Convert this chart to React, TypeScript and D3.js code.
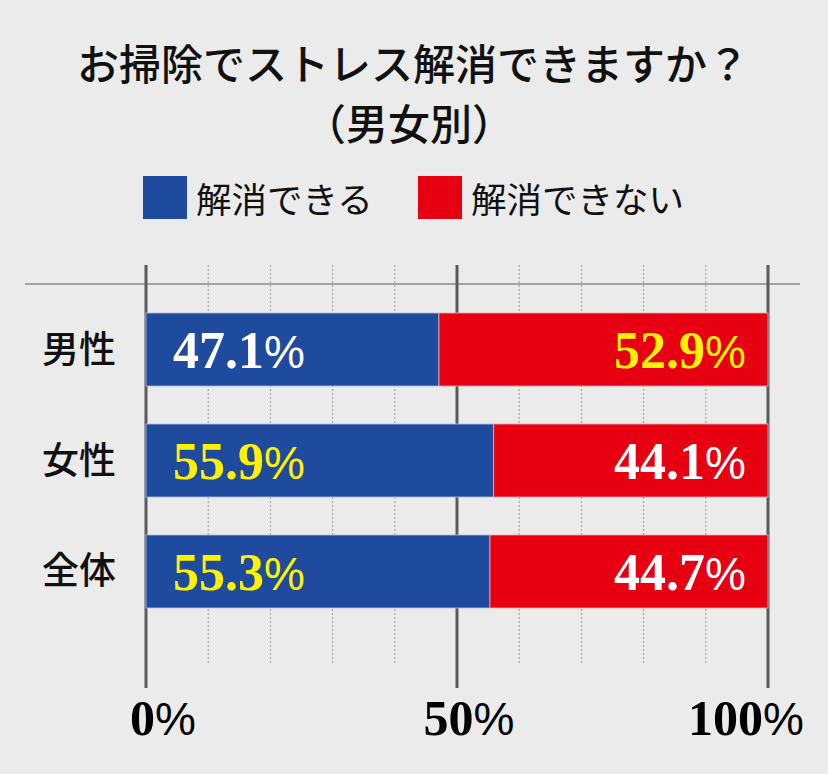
import React from "react";
import * as d3 from "d3";

const categories = ["男性", "女性", "全体"];
const canValues = [47.1, 55.9, 55.3];
const cannotValues = [52.9, 44.1, 44.7];
const seriesNames = ["解消できる", "解消できない"];
const majorTicks = [0, 50, 100];
const minorTicks = [10, 20, 30, 40, 60, 70, 80, 90];
const tickLabels = ["0%", "50%", "100%"];

const W = 828;
const H = 774;
const BLUE = "#1f4b9e";
const RED = "#e60012";
const YELLOW = "#fff200";
const CJK = "'Noto Sans CJK JP', 'Noto Sans', sans-serif";
const SERIF = "'Liberation Serif', 'DejaVu Serif', serif";
const SANS = "'Liberation Sans', Arial, sans-serif";

function PctLabel({ x, y, value, fill, anchor }: { x: number; y: number; value: number; fill: string; anchor: string }) {
  return (
    <text x={x} y={y} textAnchor={anchor} fill={fill}>
      <tspan fontFamily={SERIF} fontWeight="bold" fontSize={52}>{value.toFixed(1)}</tspan>
      <tspan fontFamily={SANS} fontWeight="normal" fontSize={46}>%</tspan>
    </text>
  );
}

export default function App() {
  const x = d3.scaleLinear().domain([0, 100]).range([146, 768]);
  const y = d3.scaleBand().domain(categories).range([257.5, 663.5]).paddingInner(0.342).paddingOuter(0.5);
  const bh = y.bandwidth();
  const axisLabelOffsets = [[-16, "start"], [12, "middle"], [36, "end"]] as const;

  return (
    <svg width={W} height={H} style={{ position: "absolute", left: 0, top: 0 }}>
      <rect width={W} height={H} fill="#ebebeb" />
      <text x={413} y={80} textAnchor="middle" fontFamily={CJK} fontWeight={500} fontSize={42} fill="#111">お掃除でストレス解消できますか？</text>
      <text x={409} y={140} textAnchor="middle" fontFamily={CJK} fontWeight={500} fontSize={42} fill="#111">（男女別）</text>

      <rect x={143} y={176} width={44} height={43} fill={BLUE} />
      <text x={196} y={213} fontFamily={CJK} fontSize={35.5} fill="#111">{seriesNames[0]}</text>
      <rect x={418} y={176} width={44} height={43} fill={RED} />
      <text x={471} y={213} fontFamily={CJK} fontSize={35.5} fill="#111">{seriesNames[1]}</text>

      <line x1={25} x2={800} y1={284} y2={284} stroke="#8a8a8a" strokeWidth={1.5} />

      {minorTicks.map((t) => (
        <line key={t} x1={x(t)} x2={x(t)} y1={265} y2={663} stroke="#9a9a9a" strokeWidth={1} strokeDasharray="2,2" />
      ))}
      {majorTicks.map((t) => (
        <line key={t} x1={x(t)} x2={x(t)} y1={265} y2={688} stroke="#5a5a5a" strokeWidth={3} />
      ))}

      {categories.map((c, i) => {
        const y0 = y(c)!;
        const cy = y0 + bh / 2;
        const canBig = canValues[i] > cannotValues[i];
        return (
          <g key={c}>
            <rect x={x(0)} y={y0} width={x(canValues[i]) - x(0)} height={bh} fill={BLUE} stroke="#b8c4dc" strokeWidth={0.8} />
            <rect x={x(canValues[i])} y={y0} width={x(100) - x(canValues[i])} height={bh} fill={RED} stroke="#e8b0b0" strokeWidth={0.8} />
            <text x={116} y={cy + 13} textAnchor="end" fontFamily={CJK} fontWeight={500} fontSize={37} fill="#111">{c}</text>
            <PctLabel x={x(0) + 27} y={cy + 18.5} value={canValues[i]} fill={canBig ? YELLOW : "#fff"} anchor="start" />
            <PctLabel x={x(100) - 22} y={cy + 18.5} value={cannotValues[i]} fill={canBig ? "#fff" : YELLOW} anchor="end" />
          </g>
        );
      })}

      {majorTicks.map((t, i) => (
        <text key={t} x={x(t) + axisLabelOffsets[i][0]} y={735} textAnchor={axisLabelOffsets[i][1]} fill="#000">
          <tspan fontFamily={SERIF} fontWeight="bold" fontSize={50}>{tickLabels[i].replace("%", "")}</tspan>
          <tspan fontFamily={SANS} fontSize={46}>%</tspan>
        </text>
      ))}
    </svg>
  );
}
